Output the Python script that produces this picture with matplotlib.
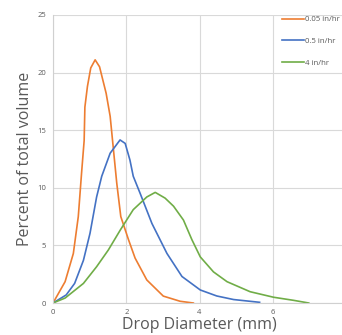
import matplotlib
matplotlib.use("Agg")
import matplotlib.pyplot as plt

plt.rcParams['font.family'] = ['Open Sans', 'DejaVu Sans']

series_names = ["0.05 in/hr", "0.5 in/hr", "4 in/hr"]
colors = ["#ED7D31", "#4472C4", "#70AD47"]

x_005 = [0, 0.33, 0.555, 0.69, 0.78, 0.85, 0.87, 0.94, 1.03, 1.15, 1.27, 1.45, 1.56, 1.65, 1.74, 1.85, 2.06, 2.24, 2.56, 3.01, 3.47, 3.83]
y_005 = [0, 1.85, 4.3, 7.5, 11.3, 14.1, 17.0, 18.8, 20.4, 21.1, 20.5, 18.2, 16.2, 13.3, 10.4, 7.5, 5.5, 3.9, 2.0, 0.6, 0.15, 0]

x_05 = [0, 0.36, 0.59, 0.83, 1.01, 1.19, 1.33, 1.56, 1.83, 1.97, 2.10, 2.19, 2.38, 2.70, 3.11, 3.52, 4.02, 4.47, 4.93, 5.64]
y_05 = [0, 0.7, 1.7, 3.7, 6.05, 9.2, 11.0, 13.0, 14.15, 13.85, 12.4, 11.0, 9.5, 6.9, 4.3, 2.3, 1.13, 0.61, 0.3, 0.06]

x_4 = [0, 0.33, 0.83, 1.19, 1.51, 1.83, 2.19, 2.56, 2.79, 3.06, 3.29, 3.56, 3.79, 4.02, 4.38, 4.75, 5.38, 6.02, 6.57, 6.98]
y_4 = [0, 0.43, 1.7, 3.15, 4.6, 6.3, 8.1, 9.2, 9.6, 9.1, 8.4, 7.2, 5.5, 4.0, 2.7, 1.85, 0.98, 0.5, 0.23, 0]

x_ticks = [0, 2, 4, 6]
y_ticks = [0, 5, 10, 15, 20, 25]

fig = plt.figure(figsize=(3.42, 3.35), dpi=100)
ax = fig.add_axes([0.155, 0.0955, 0.857, 0.86])

for xs, ys, name, c in zip([x_005, x_05, x_4], [y_005, y_05, y_4], series_names, colors):
    ax.plot(xs, ys, color=c, lw=1.2, label=name)

ax.set_xlim(0, 8)
ax.set_ylim(0, 25)
ax.set_xticks(x_ticks)
ax.set_yticks(y_ticks)
ax.grid(True, color="#d9d9d9", lw=0.8)
ax.set_axisbelow(True)
for s in ["top", "right"]:
    ax.spines[s].set_visible(False)
for s in ["left", "bottom"]:
    ax.spines[s].set_color("#d0d0d0")
    ax.spines[s].set_linewidth(0.8)
ax.tick_params(length=0, labelsize=5.5, colors="#595959", pad=5)
ax.tick_params(axis="x", pad=4)

ax.set_xlabel("Drop Diameter (mm)", fontsize=11.5, color="#595959", labelpad=1)
ax.set_ylabel("Percent of total volume", fontsize=11.5, color="#595959", labelpad=3)

leg = ax.legend(loc="upper left", bbox_to_anchor=(0.815, 0.962), bbox_transform=fig.transFigure,
                frameon=False, fontsize=5.6, handlelength=2.9, handletextpad=0.1,
                labelspacing=1.85, borderaxespad=0)
for t in leg.get_texts():
    t.set_color("#595959")

fig.savefig("out.png", dpi=100)
